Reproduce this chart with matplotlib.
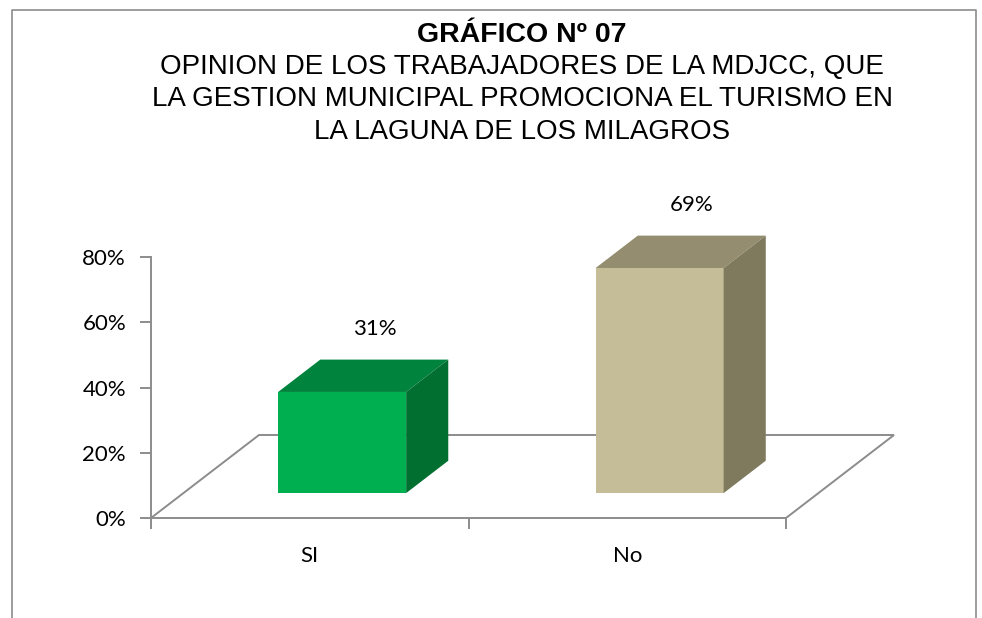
import matplotlib
matplotlib.use("Agg")
import matplotlib.pyplot as plt
from matplotlib.patches import Polygon
from matplotlib.lines import Line2D
from matplotlib.ticker import PercentFormatter

# data
categorias = ["SI", "No"]
valores = [0.31, 0.69]
col_frente = ["#00B050", "#C4BD97"]
col_arriba = ["#00833C", "#948D6F"]
col_lado = ["#006F30", "#7F7A5E"]
y_ticks = [0, 0.2, 0.4, 0.6, 0.8]

titulo = "GRÁFICO Nº 07"
subtitulo = ["OPINION DE LOS TRABAJADORES DE LA MDJCC, QUE",
             "LA GESTION MUNICIPAL PROMOCIONA EL TURISMO EN",
             "LA LAGUNA DE LOS MILAGROS"]

W, H = 982, 618
fig = plt.figure(figsize=(W / 100, H / 100), dpi=100)

# frame around the chart (bottom edge is cut off)
gris = "#8C8C8C"
fig.add_artist(Line2D([12 / W, 12 / W, 976 / W, 976 / W],
                      [0, 1 - 10 / H, 1 - 10 / H, 0], color=gris, lw=1.2))

# titles
fig.text(522 / W, 1 - 42 / H, titulo, ha="center", va="baseline",
         fontsize=20.5, fontweight="bold", family="Liberation Sans")
for i, linea in enumerate(subtitulo):
    fig.text(522 / W, 1 - (74 + 32.5 * i) / H, linea, ha="center", va="baseline",
             fontsize=20, family="Liberation Sans")

# axes: x unit = 317.5 px, y unit = 326.25 px
ux, uy = 317.5, 326.25
ax = fig.add_axes([151 / W, (H - 518) / H, 744 / W, uy / H])
ax.set_xlim(0, 744 / ux)
ax.set_ylim(0, 1.0)

# depth vector of the floor
dx, dy = 108 / ux, 83 / uy
ancho = 128 / ux
f0, f1 = 0.30, 0.69

# floor
ax.plot([0, dx, 2 + dx, 2], [0, dy, dy, 0], color=gris, lw=1.4, zorder=1, solid_joinstyle="miter")

for i, (cat, v) in enumerate(zip(categorias, valores)):
    c = i + 0.5
    x0 = c - ancho / 2 + f0 * dx
    x1 = c + ancho / 2 + f0 * dx
    y0 = f0 * dy
    ddx, ddy = (f1 - f0) * dx, (f1 - f0) * dy
    frente = [(x0, y0), (x1, y0), (x1, y0 + v), (x0, y0 + v)]
    arriba = [(x0, y0 + v), (x1, y0 + v), (x1 + ddx, y0 + v + ddy), (x0 + ddx, y0 + v + ddy)]
    lado = [(x1, y0), (x1 + ddx, y0 + ddy), (x1 + ddx, y0 + v + ddy), (x1, y0 + v)]
    for pts, col in [(frente, col_frente[i]), (arriba, col_arriba[i]), (lado, col_lado[i])]:
        ax.add_patch(Polygon(pts, closed=True, facecolor=col, edgecolor="none", zorder=3))
    ax.text(c + 0.6 * dx, v + 0.27, f"{v:.0%}", ha="center", va="center",
            fontsize=16, family="Lato", color="black")

for s in ["top", "right"]:
    ax.spines[s].set_visible(False)
ax.spines["left"].set_bounds(0, 0.8)
ax.spines["bottom"].set_bounds(0, 2)
for s in ["left", "bottom"]:
    ax.spines[s].set_color(gris)
    ax.spines[s].set_linewidth(1.4)

ax.set_yticks(y_ticks)
ax.yaxis.set_major_formatter(PercentFormatter(1.0, decimals=0))
ax.set_xticks([0, 1, 2])
ax.set_xticklabels([])
ax.set_xticks([0.5, 1.5], minor=True)
ax.set_xticklabels(categorias, minor=True)
ax.tick_params(axis="x", which="minor", length=0, pad=20, labelsize=16)
ax.tick_params(axis="x", which="major", length=8, color=gris, width=1.4)
ax.tick_params(axis="y", length=8, color=gris, width=1.4, pad=10, labelsize=16)
for lab in ax.get_xticklabels(minor=True) + ax.get_yticklabels():
    lab.set_family("Lato")
    lab.set_color("black")
ax.patch.set_visible(False)

fig.savefig("out.png", dpi=100)
